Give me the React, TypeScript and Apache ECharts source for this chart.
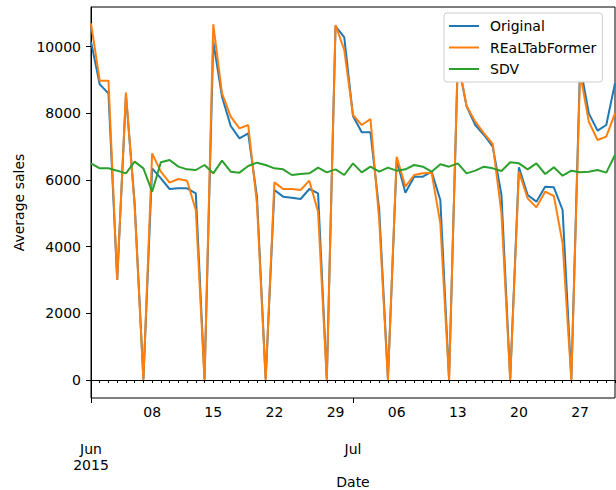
import React, { useEffect, useRef } from "react";
import * as echarts from "echarts";

// Daily dates Jun 1 2015 .. Jul 31 2015
const startDate = new Date(Date.UTC(2015, 5, 1));
const dates: string[] = [];
for (let i = 0; i < 61; i++) {
  const d = new Date(startDate.getTime() + i * 86400000);
  dates.push(d.toISOString().slice(0, 10));
}

const original = [
  10150, 8870, 8600, 3000, 8550, 5300, 30, 6350, 6050, 5730, 5750, 5750, 5600, 30,
  10150, 8500, 7620, 7250, 7400, 5500, 30, 5700, 5500, 5470, 5430, 5730, 5600, 30,
  10620, 10280, 7920, 7430, 7430, 5100, 30, 6600, 5620, 6100, 6100, 6250, 5400, 30,
  9550, 8220, 7650, 7350, 7000, 5550, 30, 6380, 5550, 5350, 5800, 5780, 5100, 30,
  9450, 8000, 7480, 7650, 8900,
];

const realTabFormer = [
  10700, 8980, 8980, 3000, 8620, 5200, 0, 6800, 6250, 5920, 6030, 5980, 5100, 0,
  10670, 8600, 7900, 7550, 7650, 5300, 0, 5930, 5730, 5730, 5700, 5980, 5050, 0,
  10650, 9900, 7950, 7650, 7830, 4800, 0, 6700, 5800, 6150, 6200, 6220, 4700, 0,
  9650, 8220, 7750, 7400, 7080, 5000, 0, 6250, 5450, 5180, 5650, 5520, 4100, 0,
  9200, 7750, 7200, 7300, 8000,
];

const sdv = [
  6500, 6350, 6350, 6280, 6200, 6550, 6350, 5650, 6530, 6600, 6400, 6320, 6300, 6450,
  6200, 6580, 6250, 6220, 6420, 6520, 6450, 6350, 6320, 6150, 6180, 6200, 6370, 6230,
  6320, 6150, 6500, 6230, 6400, 6250, 6370, 6280, 6320, 6450, 6400, 6250, 6470, 6400,
  6500, 6200, 6280, 6400, 6350, 6270, 6530, 6500, 6320, 6500, 6180, 6380, 6130, 6280,
  6230, 6250, 6300, 6220, 6750,
];

const yTicks = [0, 2000, 4000, 6000, 8000, 10000];
const monthLabels: Record<string, string> = {
  "2015-06-01": "Jun\n2015",
  "2015-07-01": "Jul",
};

const FONT = "DejaVu Sans";

export default function App() {
  const ref = useRef<HTMLDivElement>(null);
  useEffect(() => {
    if (!ref.current) return;
    const chart = echarts.init(ref.current, undefined, { renderer: "svg" });
    const isMonday = (i: number) => i > 0 && i % 7 === 0;
    const isMonth = (i: number) => monthLabels[dates[i]] !== undefined;
    chart.setOption({
      animation: false,
      backgroundColor: "#ffffff",
      textStyle: { fontFamily: FONT },
      grid: {
        left: 91,
        right: 1,
        top: 7,
        bottom: 92,
        show: true,
        borderColor: "#000",
        borderWidth: 1,
        backgroundColor: "transparent",
        containLabel: false,
        outerBoundsMode: "none",
      },
      legend: {
        left: 444,
        top: 13,
        orient: "vertical",
        icon: "rect",
        itemWidth: 30,
        itemHeight: 2,
        itemGap: 5.5,
        padding: [5, 6, 5, 5],
        backgroundColor: "#ffffff",
        borderColor: "#cccccc",
        borderWidth: 1,
        borderRadius: 3,
        textStyle: {
          fontFamily: FONT,
          fontSize: 14,
          color: "#000",
          lineHeight: 16,
          padding: [0, 0, 0, 6],
        },
        data: ["Original", "REaLTabFormer", "SDV"],
      },
      xAxis: [
        {
          type: "category",
          data: dates,
          boundaryGap: false,
          position: "bottom",
          axisLine: { show: true, lineStyle: { color: "#000", width: 1 } },
          axisTick: {
            show: true,
            interval: 0,
            length: 3,
            lineStyle: { color: "#000", width: 1 },
          },
          axisLabel: {
            interval: (i: number) => isMonday(i),
            formatter: (v: string) => v.slice(8),
            fontFamily: FONT,
            fontSize: 14,
            color: "#000",
            margin: 7,
          },
          splitLine: { show: false },
          name: "Date",
          nameLocation: "middle",
          nameGap: 77,
          nameTextStyle: { fontFamily: FONT, fontSize: 14, color: "#000" },
        },
        {
          type: "category",
          data: dates,
          boundaryGap: false,
          position: "bottom",
          axisLine: { show: false },
          axisTick: {
            show: true,
            interval: (i: number) => isMonth(i),
            length: 5,
            lineStyle: { color: "#000", width: 1 },
          },
          axisLabel: {
            interval: (i: number) => isMonth(i),
            formatter: (v: string) => monthLabels[v] || "",
            fontFamily: FONT,
            fontSize: 14,
            lineHeight: 16,
            color: "#000",
            margin: 43,
          },
          splitLine: { show: false },
        },
      ],
      yAxis: {
        type: "value",
        min: -540,
        max: 11190,
        axisLine: { show: true, lineStyle: { color: "#000", width: 1 } },
        axisTick: {
          show: true,
          length: 5,
          customValues: yTicks,
          lineStyle: { color: "#000", width: 1 },
        },
        axisLabel: {
          customValues: yTicks,
          formatter: (v: number) => String(v),
          fontFamily: FONT,
          fontSize: 14,
          color: "#000",
          margin: 10,
        },
        splitLine: { show: false },
        name: "Average sales",
        nameLocation: "middle",
        nameGap: 64,
        nameTextStyle: { fontFamily: FONT, fontSize: 14, color: "#000" },
      },
      series: [
        {
          name: "Original",
          type: "line",
          data: original,
          symbol: "none",
          lineStyle: { color: "#1f77b4", width: 2 },
          itemStyle: { color: "#1f77b4" },
        },
        {
          name: "REaLTabFormer",
          type: "line",
          data: realTabFormer,
          symbol: "none",
          lineStyle: { color: "#ff7f0e", width: 2 },
          itemStyle: { color: "#ff7f0e" },
        },
        {
          name: "SDV",
          type: "line",
          data: sdv,
          symbol: "none",
          lineStyle: { color: "#2ca02c", width: 2 },
          itemStyle: { color: "#2ca02c" },
        },
      ],
    });
    return () => chart.dispose();
  }, []);
  return (
    <div
      ref={ref}
      style={{ position: "fixed", left: 0, top: 0, width: 616, height: 490 }}
    />
  );
}
